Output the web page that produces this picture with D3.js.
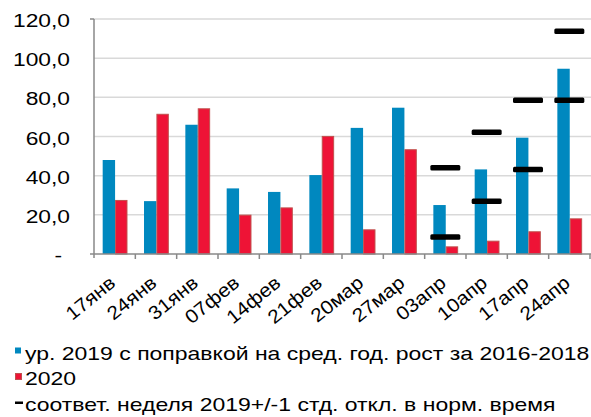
<!DOCTYPE html>
<meta charset="utf-8">
<style>
body { margin: 0; background: #fff; }
text { font-family: "Liberation Sans", Arial, sans-serif; fill: #000; }
</style>
<svg width="591" height="417"></svg>
<script src="https://cdn.jsdelivr.net/npm/d3@7"></script>
<script>

var weeks = ["17янв", "24янв", "31янв", "07фев", "14фев", "21фев", "20мар", "27мар", "03апр", "10апр", "17апр", "24апр"];
var adj2019 = [48.0, 27.0, 66.0, 33.5, 31.7, 40.3, 64.4, 74.7, 25.0, 43.2, 59.4, 94.6];
var val2020 = [27.6, 71.6, 74.4, 20.1, 23.8, 60.3, 12.6, 53.5, 3.9, 6.8, 11.6, 18.2];
// +/- 1 std band of the same week in 2019 (only for April)
var bandHi = [null, null, null, null, null, null, null, null, 44.1, 62.2, 78.5, 113.7];
var bandLo = [null, null, null, null, null, null, null, null, 8.7, 26.9, 43.1, 78.5];
var yTicks = [0, 20, 40, 60, 80, 100, 120];
var legendLabels = ["ур. 2019 с поправкой на сред. год. рост за 2016-2018", "2020", "соответ. неделя 2019+/-1 стд. откл. в норм. время"];

var blue = "#0088bf", red = "#ee1336", redEdge = "#c0504d";
var stretch = 1.2; // text in the original is a bit wider than usual

var svg = d3.select("svg");

var x = d3.scaleBand()
    .domain(weeks)
    .range([94, 590]);

var x1 = d3.scaleBand()
    .domain(["a", "b"])
    .range([x.bandwidth() * 0.21, x.bandwidth() * 0.81]);

var y = d3.scaleLinear()
    .domain([0, 120])
    .range([254, 19]);

// gridlines
svg.append("g")
    .selectAll("line")
    .data(yTicks.slice(1))
    .enter().append("line")
    .attr("x1", 94).attr("x2", 591)
    .attr("y1", function(d) { return y(d); })
    .attr("y2", function(d) { return y(d); })
    .attr("stroke", "#d9d9d9")
    .attr("stroke-width", 1.5);

// y labels
svg.append("g")
    .selectAll("text")
    .data(yTicks)
    .enter().append("text")
    .attr("text-anchor", "end")
    .attr("transform", function(d) {
      return "translate(" + (d == 0 ? 62 : 70) + "," + (y(d) + 8) + ") scale(" + stretch + ",1)";
    })
    .style("font-size", "19px")
    .text(function(d) { return d == 0 ? "-" : d3.format(".1f")(d).replace(".", ","); });

// bars
var groups = svg.append("g")
    .selectAll("g")
    .data(weeks)
    .enter().append("g")
    .attr("transform", function(d) { return "translate(" + x(d) + ",0)"; });

groups.append("rect")
    .attr("x", x1("a"))
    .attr("width", x1.bandwidth())
    .attr("y", function(d, i) { return y(adj2019[i]); })
    .attr("height", function(d, i) { return y(0) - y(adj2019[i]); })
    .attr("fill", blue);

groups.append("rect")
    .attr("x", x1("b") + 0.5)
    .attr("width", x1.bandwidth() - 1)
    .attr("y", function(d, i) { return y(val2020[i]) + 0.5; })
    .attr("height", function(d, i) { return y(0) - y(val2020[i]) - 0.5; })
    .attr("fill", red)
    .attr("stroke", redEdge)
    .attr("stroke-width", 1);

// std markers
[bandHi, bandLo].forEach(function(arr) {
  svg.append("g")
      .selectAll("rect")
      .data(weeks.filter(function(d, i) { return arr[i] != null; }))
      .enter().append("rect")
      .attr("x", function(d) { return x(d) + x.bandwidth() / 2 - 15; })
      .attr("y", function(d) { return y(arr[weeks.indexOf(d)]) - 2.75; })
      .attr("width", 30)
      .attr("height", 5.5)
      .attr("rx", 1.5)
      .attr("fill", "#000");
});

// axes lines
svg.append("line")
    .attr("x1", 94).attr("x2", 94).attr("y1", 19).attr("y2", 258)
    .attr("stroke", "#888").attr("stroke-width", 1.5);
svg.append("line")
    .attr("x1", 90).attr("x2", 591).attr("y1", 254).attr("y2", 254)
    .attr("stroke", "#888").attr("stroke-width", 1.5);

svg.append("g")
    .selectAll("line")
    .data(weeks)
    .enter().append("line")
    .attr("x1", function(d) { return x(d) + x.bandwidth(); })
    .attr("x2", function(d) { return x(d) + x.bandwidth(); })
    .attr("y1", 254).attr("y2", 259)
    .attr("stroke", "#888").attr("stroke-width", 1.5);
svg.append("line")
    .attr("x1", 90).attr("x2", 94).attr("y1", y(120)).attr("y2", y(120))
    .attr("stroke", "#888").attr("stroke-width", 1.5);

// x labels
svg.append("g")
    .selectAll("text")
    .data(weeks)
    .enter().append("text")
    .attr("text-anchor", "end")
    .attr("transform", function(d) {
      return "translate(" + (x(d) + x.bandwidth() / 2 + 2) + ",285) rotate(-39) scale(1.1,1)";
    })
    .style("font-size", "19px")
    .text(function(d) { return d; });

// legend
var legend = svg.append("g");
var ly = [360, 385, 411];
legend.append("rect").attr("x", 15).attr("y", 347.5).attr("width", 6).attr("height", 6).attr("fill", blue);
legend.append("rect").attr("x", 15.5).attr("y", 373.5).attr("width", 6).attr("height", 6)
    .attr("fill", red).attr("stroke", redEdge);
legend.append("rect").attr("x", 15).attr("y", 401.5).attr("width", 8).attr("height", 2.5).attr("fill", "#000");

legend.selectAll("text")
    .data(legendLabels)
    .enter().append("text")
    .attr("transform", function(d, i) { return "translate(25," + ly[i] + ") scale(1.21,1)"; })
    .style("font-size", "19px")
    .text(function(d) { return d; });

</script>
